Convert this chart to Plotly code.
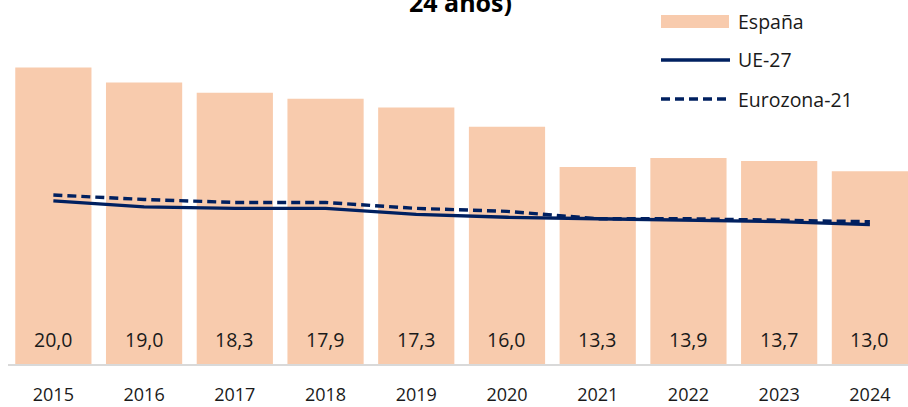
import plotly.graph_objects as go

# ---- data ----
years = ["2015", "2016", "2017", "2018", "2019", "2020", "2021", "2022", "2023", "2024"]
espana = [20.0, 19.0, 18.3, 17.9, 17.3, 16.0, 13.3, 13.9, 13.7, 13.0]
ue27 = [11.0, 10.6, 10.5, 10.5, 10.1, 9.9, 9.8, 9.7, 9.6, 9.4]
eurozona21 = [11.4, 11.1, 10.9, 10.9, 10.5, 10.3, 9.8, 9.8, 9.7, 9.6]
series_names = ["España", "UE-27", "Eurozona-21"]
title_text = "24 años)"

# ---- style ----
W, H = 908, 407
ML, MR, MT, MB = 8, 0, 0, 43
PW, PH = W - ML - MR, H - MT - MB
BAR_COLOR = "#F8CBAD"
LINE_COLOR = "#002060"
FONT = "Open Sans"
TXT = "#1a1a1a"


def px_x(px):
    return (px - ML) / PW


def px_y(py):
    return (H - MB - py) / PH


fig = go.Figure()
fig.add_trace(go.Bar(x=years, y=espana, name=series_names[0], marker_color=BAR_COLOR,
                     marker_line_width=0, width=0.84, showlegend=False, hoverinfo="x+y"))
fig.add_trace(go.Scatter(x=years, y=ue27, name=series_names[1], mode="lines",
                         line=dict(color=LINE_COLOR, width=3.3), showlegend=False))
fig.add_trace(go.Scatter(x=years, y=eurozona21, name=series_names[2], mode="lines",
                         line=dict(color=LINE_COLOR, width=3.4, dash="9px,5px"), showlegend=False))

annotations = []
for i, v in enumerate(espana):
    annotations.append(dict(x=i, y=1.62, xref="x", yref="y", text=f"{v:.1f}".replace(".", ","),
                            showarrow=False, font=dict(family=FONT, size=19.5, color=TXT),
                            xanchor="center", yanchor="middle"))

# title fragment visible in the reference
annotations.append(dict(x=px_x(460), y=px_y(21), xref="paper", yref="paper", text=f"<b>{title_text}</b>",
                        showarrow=False, font=dict(family=FONT, size=25, color="#000000"),
                        xanchor="center", yanchor="bottom"))

# custom legend
shapes = [
    dict(type="rect", xref="paper", yref="paper", x0=px_x(661), x1=px_x(729), y0=px_y(28), y1=px_y(15),
         fillcolor=BAR_COLOR, line_width=0),
    dict(type="line", xref="paper", yref="paper", x0=px_x(661), x1=px_x(730), y0=px_y(60), y1=px_y(60),
         line=dict(color=LINE_COLOR, width=3.3)),
    dict(type="line", xref="paper", yref="paper", x0=px_x(661), x1=px_x(730), y0=px_y(99), y1=px_y(99),
         line=dict(color=LINE_COLOR, width=3.4, dash="9px,5px")),
]
for name, py in zip(series_names, [21, 60, 99]):
    annotations.append(dict(x=px_x(736), y=px_y(py), xref="paper", yref="paper", text=name,
                            showarrow=False, font=dict(family=FONT, size=19.5, color=TXT),
                            xanchor="left", yanchor="middle"))

fig.update_layout(
    width=W, height=H,
    margin=dict(l=ML, r=MR, t=MT, b=MB, pad=0, autoexpand=False),
    paper_bgcolor="white", plot_bgcolor="white",
    barmode="overlay",
    annotations=annotations,
    shapes=shapes,
    font=dict(family=FONT, color=TXT),
)
fig.update_xaxes(type="category", range=[-0.5, 9.42], showgrid=False, zeroline=False,
                 showline=True, linecolor="#D9D9D9", linewidth=2,
                 ticks="", ticklabelstandoff=13, automargin=False,
                 tickfont=dict(family=FONT, size=18, color=TXT))
fig.update_yaxes(range=[0, 24.56], visible=False, showgrid=False, zeroline=False, automargin=False)

fig.write_html("out.html", config={"displayModeBar": False},
               post_script="document.body.style.margin='0';document.body.style.overflow='hidden';")
